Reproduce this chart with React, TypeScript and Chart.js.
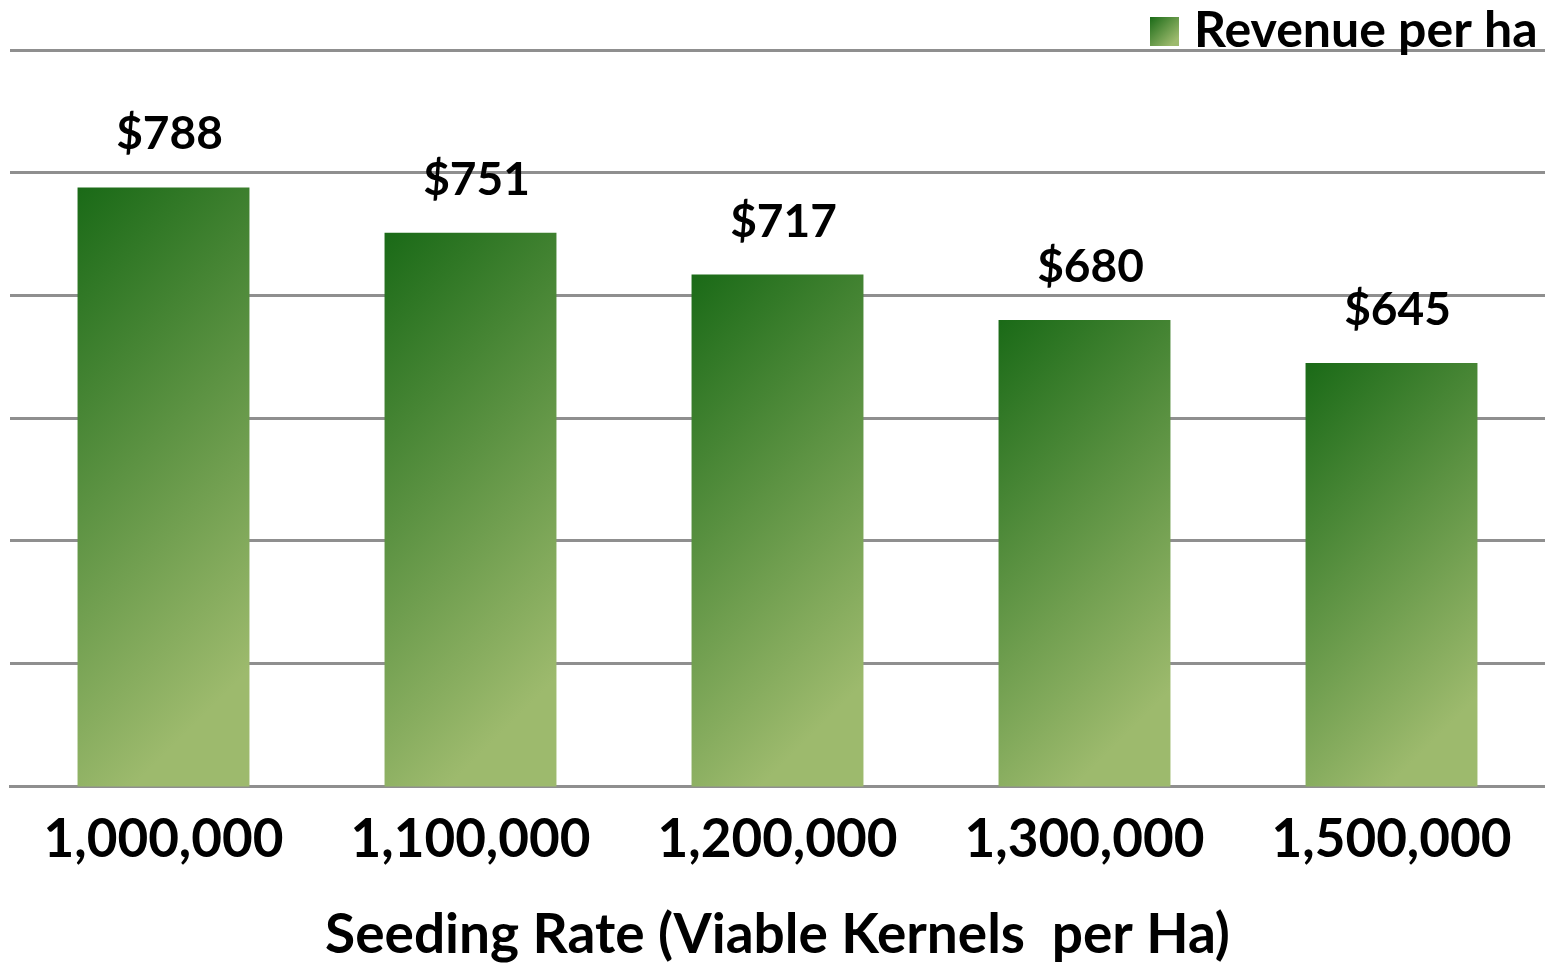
import React, { useEffect, useRef } from "react";
import { Chart, registerables } from "chart.js";

Chart.register(...registerables);

const categories = ["1,000,000", "1,100,000", "1,200,000", "1,300,000", "1,500,000"];
const revenue = [788, 751, 717, 680, 645];
const seriesName = "Revenue per ha";
const axisTitle = "Seeding Rate (Viable Kernels  per Ha)";
const yMin = 300;
const yMax = 900;
const yStep = 100;

const FONT = "Lato, 'Open Sans', sans-serif";
const DARK = "#1a6a17";
const LIGHT = "#9dba6d";
const BAR_PCT = 0.56;

function makeGradient(ctx: CanvasRenderingContext2D, x0: number, y0: number, w: number, h: number) {
  const L = (w + h) / 2;
  const g = ctx.createLinearGradient(x0, y0, x0 + L, y0 + L);
  g.addColorStop(0, DARK);
  g.addColorStop(0.85, LIGHT);
  g.addColorStop(1, LIGHT);
  return g;
}

const overlayPlugin = {
  id: "overlay",
  afterDatasetsDraw(chart: any) {
    const ctx = chart.ctx as CanvasRenderingContext2D;
    const meta = chart.getDatasetMeta(0);
    ctx.save();
    ctx.fillStyle = "#000";
    ctx.font = `bold 46px ${FONT}`;
    ctx.textAlign = "center";
    ctx.textBaseline = "alphabetic";
    meta.data.forEach((bar: any, i: number) => {
      ctx.fillText(`$${revenue[i]}`, bar.x + 6, bar.y - 38);
    });
    // legend
    const bx = 1150, by = 17, bs = 29;
    ctx.fillStyle = makeGradient(ctx, bx, by, bs, bs);
    ctx.fillRect(bx, by, bs, bs);
    ctx.fillStyle = "#000";
    ctx.font = `bold 50px ${FONT}`;
    ctx.textAlign = "left";
    ctx.fillText(seriesName, 1194, 47);
    ctx.restore();
  },
};

export default function App() {
  const ref = useRef<HTMLCanvasElement | null>(null);
  useEffect(() => {
    if (!ref.current) return;
    const chart = new Chart(ref.current, {
      type: "bar",
      data: {
        labels: categories,
        datasets: [
          {
            label: seriesName,
            data: revenue,
            barPercentage: BAR_PCT,
            categoryPercentage: 1,
            backgroundColor: (c: any) => {
              const ch = c.chart;
              if (!ch.chartArea || c.type !== "data") return "#4a8a3a";
              const xs = ch.scales.x;
              const ys = ch.scales.y;
              const cx = xs.getPixelForValue(c.dataIndex);
              const w = (xs.width / categories.length) * BAR_PCT;
              const top = ys.getPixelForValue(c.raw);
              const bottom = ys.getPixelForValue(yMin);
              return makeGradient(ch.ctx, cx - w / 2, top, w, bottom - top);
            },
          },
        ],
      },
      options: {
        responsive: false,
        animation: false,
        layout: { padding: { left: 10, right: 0, top: 50, bottom: 0 } },
        plugins: {
          legend: { display: false },
          tooltip: { enabled: false },
        },
        scales: {
          x: {
            grid: { display: false, drawTicks: false },
            border: { display: true, color: "#8f8f8f", width: 3 },
            ticks: {
              color: "#000",
              font: { family: FONT, size: 53, weight: "bold" },
              padding: 22,
              maxRotation: 0,
              autoSkip: false,
            },
            title: {
              display: true,
              text: axisTitle,
              color: "#000",
              font: { family: FONT, size: 55, weight: "bold", lineHeight: 1.0 },
              padding: { top: 14, bottom: 0 },
            },
          },
          y: {
            min: yMin,
            max: yMax,
            ticks: { display: false, stepSize: yStep },
            grid: { color: "#8f8f8f", lineWidth: 3, drawTicks: false },
            border: { display: false },
          },
        },
      },
      plugins: [overlayPlugin],
    });
    return () => chart.destroy();
  }, []);
  return (
    <div style={{ position: "fixed", left: 0, top: 0, width: 1545, height: 963, background: "#fff" }}>
      <canvas ref={ref} width={1545} height={963} />
    </div>
  );
}
